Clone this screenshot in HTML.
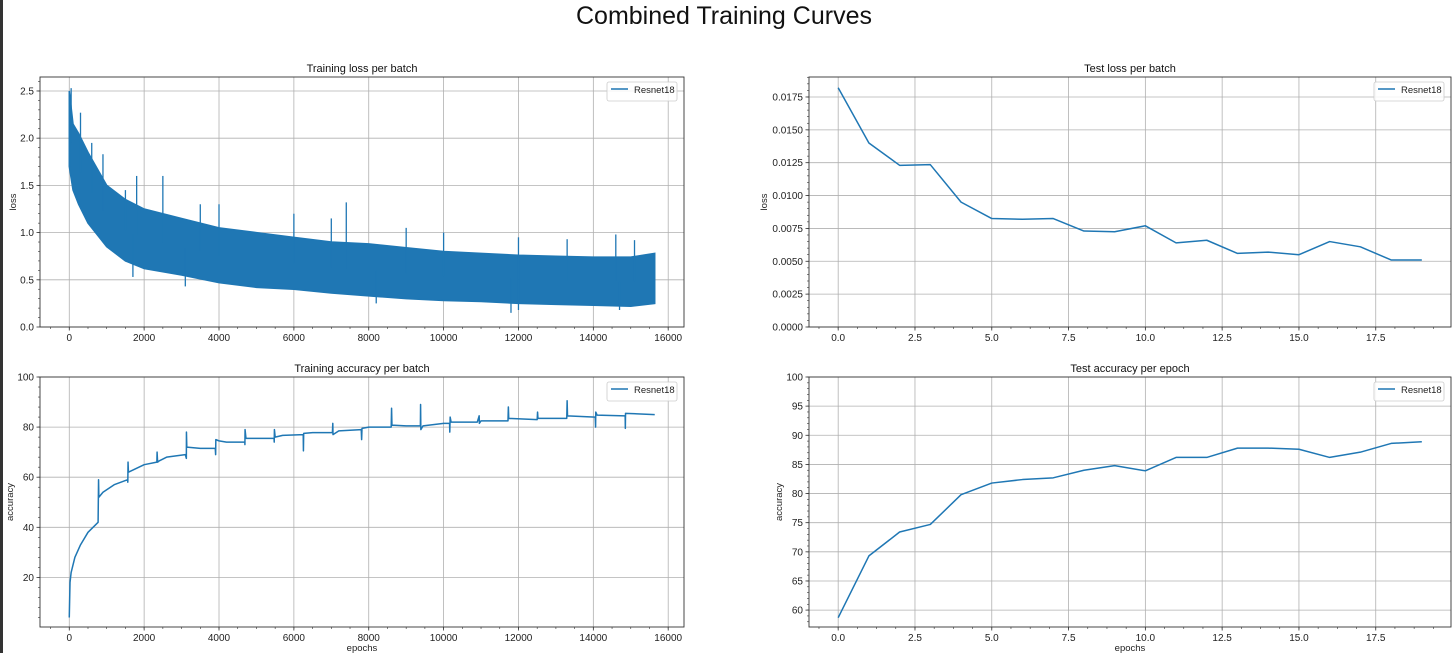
<!DOCTYPE html>
<html><head><meta charset="utf-8">
<style>
html,body{margin:0;padding:0;background:#fff;}
body{width:1455px;height:653px;overflow:hidden;position:relative;font-family:"Liberation Sans","DejaVu Sans",sans-serif;}
svg text{font-family:"Liberation Sans","DejaVu Sans",sans-serif;}
</style></head>
<body>
<svg id="fig" width="1455" height="653" viewBox="0 0 1455 653" xmlns="http://www.w3.org/2000/svg">
<rect x="0" y="0" width="3" height="653" fill="#333"/>
<text x="724" y="24" font-size="25" text-anchor="middle" fill="#111">Combined Training Curves</text>
</svg>
<script>
// ---- Test loss data ----
const testLossEpochs = [0,1,2,3,4,5,6,7,8,9,10,11,12,13,14,15,16,17,18,19];
const testLossValues = [0.0182,0.0140,0.0123,0.01235,0.0095,0.00825,0.0082,0.00825,0.0073,0.00725,0.0077,0.0064,0.0066,0.0056,0.0057,0.0055,0.0065,0.0061,0.0051,0.0051];
const testLossTicksY = [0,0.0025,0.005,0.0075,0.01,0.0125,0.015,0.0175];
const testLossTickLabelsY = ["0.0000","0.0025","0.0050","0.0075","0.0100","0.0125","0.0150","0.0175"];
const epochTicks = [0,2.5,5,7.5,10,12.5,15,17.5];
const epochTickLabels = ["0.0","2.5","5.0","7.5","10.0","12.5","15.0","17.5"];
// ---- Test accuracy data ----
const testAccValues = [58.7,69.3,73.4,74.7,79.8,81.8,82.4,82.7,84.0,84.8,83.9,86.2,86.2,87.8,87.8,87.6,86.2,87.1,88.6,88.9];
const testAccTicksY = [60,65,70,75,80,85,90,95,100];
// ---- Training loss (envelope + spikes) ----
const batchTicks = [0,2000,4000,6000,8000,10000,12000,14000,16000];
const lossBandX = [0,100,250,500,1000,1500,2000,3000,4000,5000,6000,7000,8000,9000,10000,11000,12000,13000,14000,15000,15640];
const lossBandUpper = [2.5,2.15,2.05,1.85,1.5,1.35,1.25,1.15,1.05,1.0,0.95,0.9,0.88,0.84,0.8,0.78,0.76,0.75,0.74,0.74,0.78];
const lossBandLower = [1.7,1.45,1.3,1.1,0.85,0.7,0.62,0.55,0.47,0.42,0.4,0.36,0.33,0.3,0.28,0.27,0.25,0.24,0.23,0.22,0.25];
const lossSpikeX = [50,300,600,900,1500,1800,2500,3500,4000,6000,7000,7400,9000,10000,12000,13300,14600,15100,1700,3100,8200,11800,12000,14700];
const lossSpikeY = [2.53,2.27,1.95,1.83,1.45,1.6,1.6,1.3,1.3,1.2,1.15,1.32,1.05,1.0,0.95,0.93,0.98,0.92,0.53,0.43,0.25,0.15,0.18,0.18];
const lossTicksY = [0,0.5,1.0,1.5,2.0,2.5];
// ---- Training accuracy ----
const accX = [0,20,50,150,300,500,770,782,790,900,1200,1560,1564,1570,1580,2000,2340,2346,2360,2400,2600,3100,3128,3130,3140,3500,3900,3910,3915,4000,4200,4690,4692,4696,4720,5000,5470,5475,5480,5500,5700,6250,6255,6262,6500,7030,7040,7045,7200,7800,7810,7820,8000,8600,8610,8620,9000,9380,9385,9392,9450,10000,10160,10165,10175,10200,10900,10950,10955,11000,11720,11730,11740,12500,12510,12520,13290,13300,13310,14050,14060,14065,14100,14850,14855,14860,15640];
const accY = [4,18,22,28,33,38,42,59,52,54,57,59,58,66,62,65,66,70,66,66.5,68,69,67.5,78,72,71.5,71.5,69,75,74.5,74,74,73,79,75.5,75.5,75.5,74,79,76,76.7,77,70.5,77.5,77.8,77.8,81.5,77,78.5,79,75,79.5,80,80,87.5,80.8,80.5,80.5,89,79,80.5,81.5,81.5,78,84,82,82,84.5,81.5,82.5,82.5,88,83.5,83,86,83.5,83.5,90.5,84.5,84,80,86,84.8,84.5,79.5,85.5,85];
const accTicksY = [20,40,60,80,100];

const NS = "http://www.w3.org/2000/svg";
const fig = document.getElementById('fig');
const BLUE = "#1f77b4";
function mk(tag, attrs, parent){
  const e = document.createElementNS(NS, tag);
  for (const k in attrs) e.setAttribute(k, attrs[k]);
  (parent||fig).appendChild(e);
  return e;
}
function makeAxes(o){
  const g = mk('g', {});
  
  
  const sx = v => o.l + (v - o.x0) / (o.x1 - o.x0) * (o.r - o.l);
  const sy = v => o.b - (v - o.y0) / (o.y1 - o.y0) * (o.b - o.t);
  o.xt.forEach((v,i)=>{
    const x = sx(v);
    const ln = mk('line',{x1:x,x2:x,y1:o.t,y2:o.b,stroke:'#b0b0b0','stroke-width':0.8},g);
    
    
    mk('line',{x1:x,x2:x,y1:o.b,y2:o.b+3.5,stroke:'#333','stroke-width':0.8},g);
    const t = mk('text',{x:x,y:o.b+14,'font-size':10,'text-anchor':'middle',fill:'#222'},g);
    t.textContent = o.xl[i];
    
    
  });
  o.yt.forEach((v,i)=>{
    const y = sy(v);
    const ln = mk('line',{x1:o.l,x2:o.r,y1:y,y2:y,stroke:'#b0b0b0','stroke-width':0.8},g);
    
    
    mk('line',{x1:o.l-3.5,x2:o.l,y1:y,y2:y,stroke:'#333','stroke-width':0.8},g);
    const t = mk('text',{x:o.l-6,y:y+3.5,'font-size':10,'text-anchor':'end',fill:'#222'},g);
    t.textContent = o.yl[i];
    
    
  });
  const ystep = (o.yt[1]-o.yt[0])/5;
  for (let v=o.yt[0]-5*ystep; v<=o.y1; v+=ystep){ if(v<o.y0) continue; const y=sy(v); mk('line',{x1:o.l-2,x2:o.l,y1:y,y2:y,stroke:'#333','stroke-width':0.6},g); }
  const xstep = (o.xt[1]-o.xt[0])/4;
  for (let v=o.xt[0]-4*xstep; v<=o.x1; v+=xstep){ if(v<o.x0) continue; const x=sx(v); mk('line',{x1:x,x2:x,y1:o.b,y2:o.b+2,stroke:'#333','stroke-width':0.6},g); }
  const tt = mk('text',{x:(o.l+o.r)/2,y:o.t-5,'font-size':11,'text-anchor':'middle',fill:'#111'},g);
  tt.textContent = o.title;
  
  
  const yl = mk('text',{x:0,y:0,'font-size':9.5,'text-anchor':'middle',fill:'#222',transform:`translate(${o.ylx},${(o.t+o.b)/2}) rotate(-90)`},g);
  yl.textContent = o.ylabel;
  
  
  if (o.xlabel){
    const xl = mk('text',{x:(o.l+o.r)/2,y:o.b+24,'font-size':9.5,'text-anchor':'middle',fill:'#222'},g);
    xl.textContent = o.xlabel;
    
    
  }
  const plot = mk('g',{},g);
  const clip = mk('clipPath',{id:'c'+o.name},g);
  mk('rect',{x:o.l,y:o.t,width:o.r-o.l,height:o.b-o.t},clip);
  plot.setAttribute('clip-path','url(#c'+o.name+')');
  return {g,plot,sx,sy,o};
}
function finish(ax){
  const o = ax.o, g = ax.g;
  const f = mk('rect',{x:o.l,y:o.t,width:o.r-o.l,height:o.b-o.t,fill:'none',stroke:'#333','stroke-width':0.9},g);
  
  
  const lg = mk('g',{},g);
  
  
  const lx = o.r-77, ly = o.t+5;
  mk('rect',{x:lx,y:ly,width:70,height:19,rx:2,fill:'#fff','fill-opacity':0.85,stroke:'#ccc','stroke-width':0.8},lg);
  mk('line',{x1:lx+4,x2:lx+21,y1:ly+7,y2:ly+7,stroke:BLUE,'stroke-width':1.5},lg);
  const t = mk('text',{x:lx+27,y:ly+11,'font-size':9.5,fill:'#222'},lg);
  t.textContent = 'Resnet18';
  
  
}
function polyline(ax, xs, ys, name){
  const pts = xs.map((x,i)=>ax.sx(x).toFixed(2)+','+ax.sy(ys[i]).toFixed(2)).join(' ');
  const p = mk('polyline',{points:pts,fill:'none',stroke:BLUE,'stroke-width':1.5,'stroke-linejoin':'round'},ax.plot);
  
  
}
const batchLabels = batchTicks.map(String);

const a1 = makeAxes({name:'training-loss-chart',l:40,r:684,t:77,b:327,x0:-782,x1:16422,y0:0,y1:2.648,xt:batchTicks,xl:batchLabels,yt:lossTicksY,yl:lossTicksY.map(v=>v.toFixed(1)),title:'Training loss per batch',ylabel:'loss',ylx:16});
{
  const up = lossBandX.map((x,i)=>a1.sx(x).toFixed(2)+','+a1.sy(lossBandUpper[i]).toFixed(2));
  const lo = lossBandX.map((x,i)=>a1.sx(x).toFixed(2)+','+a1.sy(lossBandLower[i]).toFixed(2)).reverse();
  const band = mk('polygon',{points:up.concat(lo).join(' '),fill:BLUE,stroke:BLUE,'stroke-width':1.5},a1.plot);
  
  
  lossSpikeX.forEach((x,i)=>{
    let j=0; while(j<lossBandX.length-2 && lossBandX[j+1]<x) j++;
    const f=(x-lossBandX[j])/(lossBandX[j+1]-lossBandX[j]);
    const mid=(lossBandUpper[j]+f*(lossBandUpper[j+1]-lossBandUpper[j])+lossBandLower[j]+f*(lossBandLower[j+1]-lossBandLower[j]))/2;
    const s = mk('line',{x1:a1.sx(x),x2:a1.sx(x),y1:a1.sy(mid),y2:a1.sy(lossSpikeY[i]),stroke:BLUE,'stroke-width':1.3},a1.plot);
    
    
  });
}
finish(a1);

const a2 = makeAxes({name:'test-loss-chart',l:809,r:1451,t:77,b:327,x0:-0.95,x1:19.95,y0:0,y1:0.01902,xt:epochTicks,xl:epochTickLabels,yt:testLossTicksY,yl:testLossTickLabelsY,title:'Test loss per batch',ylabel:'loss',ylx:767});
polyline(a2, testLossEpochs, testLossValues, 'test-loss-line');
finish(a2);

const a3 = makeAxes({name:'training-accuracy-chart',l:40,r:684,t:377,b:627,x0:-782,x1:16422,y0:0.2,y1:100,xt:batchTicks,xl:batchLabels,yt:accTicksY,yl:accTicksY.map(String),title:'Training accuracy per batch',ylabel:'accuracy',ylx:13,xlabel:'epochs'});
polyline(a3, accX, accY, 'training-accuracy-line');
finish(a3);

const a4 = makeAxes({name:'test-accuracy-chart',l:809,r:1451,t:377,b:627,x0:-0.95,x1:19.95,y0:57.1,y1:100,xt:epochTicks,xl:epochTickLabels,yt:testAccTicksY,yl:testAccTicksY.map(String),title:'Test accuracy per epoch',ylabel:'accuracy',ylx:782,xlabel:'epochs'});
polyline(a4, testLossEpochs, testAccValues, 'test-accuracy-line');
finish(a4);
</script>
</body></html>
